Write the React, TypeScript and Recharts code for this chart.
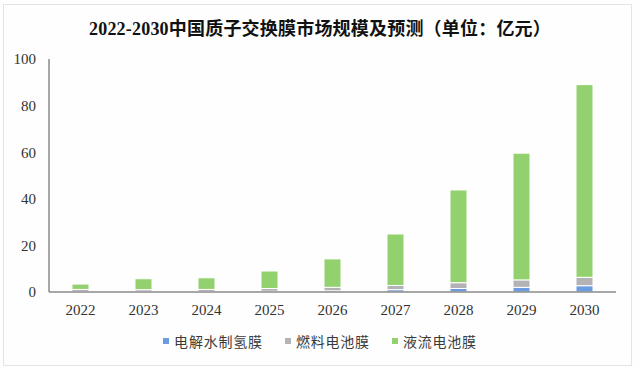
import React from 'react';
import { BarChart, Bar, XAxis, YAxis, Legend } from 'recharts';

const years = ['2022', '2023', '2024', '2025', '2026', '2027', '2028', '2029', '2030'];
const electrolysis = [0.2, 0.2, 0.2, 0.3, 0.5, 1.0, 1.5, 2.0, 2.7];
const fuelCell = [0.9, 0.8, 0.9, 1.2, 1.5, 1.8, 2.5, 3.2, 3.6];
const flowBattery = [2.3, 4.7, 5.0, 7.5, 12.2, 22.1, 39.8, 54.4, 82.7];
const yTicks = [0, 20, 40, 60, 80, 100];

const seriesNames = ['电解水制氢膜', '燃料电池膜', '液流电池膜'];
const colors = ['#6b9be0', '#b3b3b6', '#93d16f'];

const data = years.map((year, i) => ({
  year,
  electrolysis: electrolysis[i],
  fuelCell: fuelCell[i],
  flowBattery: flowBattery[i],
}));

const serif = '"Liberation Serif", "Times New Roman", serif';
const cjk = '"Noto Sans CJK SC", sans-serif';

function LegendContent() {
  return (
    <div style={{ display: 'flex', justifyContent: 'center', gap: 22, fontFamily: cjk, fontSize: 14, color: '#3a3a3a' }}>
      {seriesNames.map((name, i) => (
        <div key={name} style={{ display: 'flex', alignItems: 'center' }}>
          <span style={{ width: 6, height: 6, background: colors[i], display: 'inline-block', marginRight: 5 }} />
          <span style={{ letterSpacing: 0.8 }}>{name}</span>
        </div>
      ))}
    </div>
  );
}

export default function App() {
  return (
    <div style={{ position: 'fixed', left: 0, top: 0, width: 640, height: 369, background: '#fdfefd' }}>
      <div style={{ position: 'absolute', left: 3, top: 4, width: 629, height: 362, border: '1px solid #e4e4e4', boxSizing: 'border-box' }} />
      <div
        style={{
          position: 'absolute',
          top: 14,
          left: 0,
          width: 640,
          textAlign: 'center',
          fontFamily: `"Liberation Serif", "Noto Sans CJK SC", serif`,
          fontWeight: 'bold',
          fontSize: 18,
          letterSpacing: 0.2,
          color: '#111',
        }}
      >
        2022-2030中国质子交换膜市场规模及预测（单位：亿元）
      </div>
      <div style={{ position: 'absolute', left: 0, top: 0 }}>
        <BarChart width={640} height={369} data={data} margin={{ top: 59, right: 24, left: 0, bottom: 47 }} barSize={17}>
          <XAxis
            dataKey="year"
            tickLine={false}
            axisLine={{ stroke: '#8a8a8a', strokeWidth: 1.5 }}
            tick={{ fill: '#333', fontSize: 15, fontFamily: serif }}
            tickMargin={6}
          />
          <YAxis
            width={49}
            domain={[0, 100]}
            ticks={yTicks}
            tickLine={false}
            axisLine={{ stroke: '#8a8a8a', strokeWidth: 1.5 }}
            tick={{ fill: '#333', fontSize: 15, fontFamily: serif }}
            tickMargin={7}
          />
          <Legend verticalAlign="middle" content={<LegendContent />} wrapperStyle={{ top: 331, left: 0, width: 640 }} />
          <Bar dataKey="electrolysis" name={seriesNames[0]} stackId="a" fill={colors[0]} stroke="#fff" strokeWidth={1} isAnimationActive={false} />
          <Bar dataKey="fuelCell" name={seriesNames[1]} stackId="a" fill={colors[1]} stroke="#fff" strokeWidth={1} isAnimationActive={false} />
          <Bar dataKey="flowBattery" name={seriesNames[2]} stackId="a" fill={colors[2]} stroke="#fff" strokeWidth={1} isAnimationActive={false} />
        </BarChart>
      </div>
    </div>
  );
}
